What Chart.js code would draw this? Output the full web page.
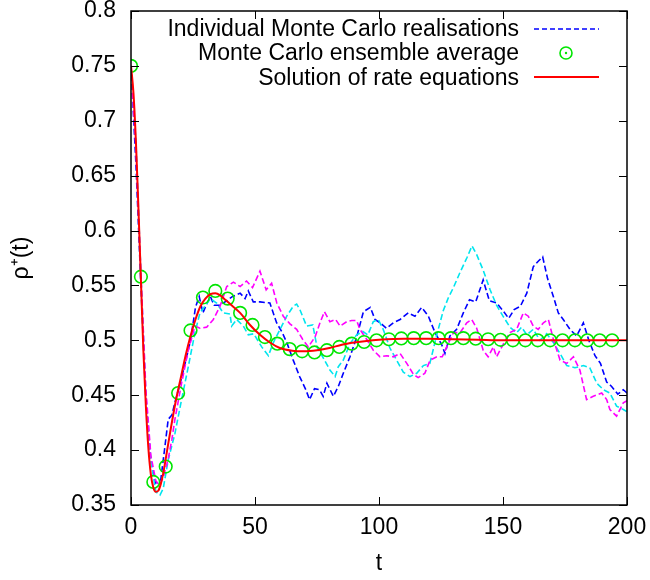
<!DOCTYPE html>
<html>
<head>
<meta charset="utf-8">
<script src="https://cdn.jsdelivr.net/npm/chart.js@4.4.0/dist/chart.umd.min.js"></script>
<style>
html,body{margin:0;padding:0;background:#fff;}
canvas{display:block;}
</style>
</head>
<body>
<canvas id="c" width="650" height="580"></canvas>
<script>
// ---- data ----
const xTicks = [0, 50, 100, 150, 200];
const yTicks = [0.35, 0.4, 0.45, 0.5, 0.55, 0.6, 0.65, 0.7, 0.75, 0.8];

const legendLabels = ["Individual Monte Carlo realisations", "Monte Carlo ensemble average", "Solution of rate equations"];

const tBlue = [0,2,4,6,8,10,12,13.5,15,16.5,18,19.5,21.5,24,26,27.5,29,30.5,32,33.5,36,38.5,41,44,46,47.3,49.3,52,56,58.7,61,63,65.4,68,70.5,72,74,76,77.5,79,81.6,83.6,85.6,88.3,91,93.7,96.5,98.4,100.4,103,105.8,108.5,111.8,114.5,117.2,119.9,122.6,125.3,126.6,128.6,131.3,134,136.5,139,142,144.5,147.4,150,152.3,154.5,157,159.6,162.2,164.2,166,168,170.3,172.3,174.3,177,179.7,182.4,184.6,187.1,189.3,191.8,193.8,196.3,198.5,200];
const vBlue = [0.75,0.66,0.55,0.445,0.39,0.37,0.373,0.40,0.428,0.432,0.446,0.458,0.476,0.500,0.530,0.540,0.525,0.533,0.540,0.532,0.532,0.536,0.540,0.543,0.538,0.545,0.535,0.535,0.534,0.516,0.507,0.497,0.482,0.467,0.455,0.446,0.456,0.455,0.449,0.461,0.449,0.458,0.470,0.485,0.503,0.526,0.530,0.519,0.516,0.511,0.516,0.519,0.525,0.522,0.530,0.522,0.507,0.496,0.488,0.504,0.510,0.525,0.537,0.535,0.555,0.536,0.534,0.527,0.520,0.528,0.531,0.543,0.567,0.572,0.576,0.556,0.540,0.525,0.519,0.510,0.504,0.516,0.500,0.486,0.479,0.462,0.458,0.451,0.455,0.452];

const tCyan = [0,2,4,6,8,10,11.7,13,15,17.7,20.4,23.1,25.8,27.8,29.8,32,34.5,37.2,39.9,40.6,42.6,45.3,47.3,49.5,52.7,55.4,57.4,60.1,62.8,65.4,66.8,68.1,70.8,73.3,75,77.5,80.2,82.3,83.6,85.6,88.3,91,93.5,95.5,97.7,99.7,101.7,104.4,107.1,109.8,112.5,115.2,117.9,120.5,123.3,125.9,128,130,132.7,135.4,137.5,139.4,142,144.8,147.4,150,152.8,155.5,157.5,159.6,162.2,164.9,167.6,170.3,173,175.7,179,182.4,185,187.8,190.5,193.1,195.8,198.5,200];
const vCyan = [0.75,0.68,0.56,0.45,0.39,0.362,0.359,0.365,0.391,0.415,0.446,0.476,0.507,0.525,0.531,0.538,0.534,0.525,0.524,0.513,0.519,0.513,0.505,0.506,0.494,0.486,0.498,0.510,0.522,0.531,0.533,0.528,0.513,0.514,0.494,0.484,0.473,0.467,0.476,0.482,0.497,0.505,0.508,0.505,0.517,0.519,0.510,0.493,0.482,0.471,0.467,0.470,0.477,0.479,0.505,0.527,0.539,0.548,0.562,0.575,0.586,0.578,0.564,0.546,0.532,0.522,0.512,0.507,0.512,0.505,0.510,0.500,0.506,0.498,0.488,0.477,0.475,0.477,0.475,0.461,0.455,0.452,0.440,0.437,0.435];

const tMagenta = [0,2,4,6,8,10,11.5,13,15,16.5,17.7,20.4,23.1,25.8,27.8,30.5,33.2,35.9,38.6,41.3,44,46.6,49,52,54.5,56.7,58.8,61.4,64.1,66.8,69.2,71.5,74.2,76.2,78,80.2,82.5,84.3,87,89,91,92.3,95,97.7,100.4,103.1,105.8,108.5,111.2,113.9,115.8,118.5,120.6,123.3,125.5,127.3,130,132.7,135.4,137.4,139.4,142,144,146.1,147.4,150,152.8,155.5,158.2,160.2,162.2,164.2,166.3,168.3,170.3,173,175.7,178.4,181,183.7,186.4,189.8,191.8,193.1,195.8,198.5,200];
const vMagenta = [0.75,0.675,0.56,0.455,0.395,0.372,0.368,0.375,0.392,0.410,0.428,0.461,0.491,0.513,0.511,0.512,0.519,0.531,0.549,0.553,0.549,0.554,0.548,0.563,0.546,0.552,0.534,0.522,0.515,0.510,0.501,0.494,0.503,0.516,0.526,0.517,0.519,0.513,0.517,0.518,0.518,0.510,0.501,0.491,0.485,0.486,0.485,0.488,0.479,0.469,0.466,0.470,0.482,0.485,0.485,0.494,0.507,0.507,0.516,0.519,0.511,0.491,0.485,0.494,0.485,0.496,0.507,0.510,0.525,0.522,0.513,0.510,0.516,0.519,0.501,0.482,0.479,0.485,0.473,0.446,0.449,0.452,0.446,0.437,0.431,0.443,0.445];

const tAvg = [0,4,9,14,19,24,29,34,39,44,49,54,59,64,69,74,79,84,89,94,99,104,109,114,119,124,129,134,139,144,149,154,159,164,169,174,179,184,189,194];
const vAvg = [0.75,0.558,0.371,0.385,0.452,0.509,0.539,0.545,0.538,0.525,0.514,0.503,0.497,0.492,0.490,0.489,0.491,0.494,0.497,0.4985,0.500,0.501,0.5017,0.502,0.502,0.502,0.502,0.502,0.5015,0.501,0.5005,0.500,0.500,0.500,0.500,0.500,0.500,0.500,0.500,0.500];

const tRate = [0,1,2,3,4,5,6,7,8,9,10,11,12,13,14,16,18,20,22,24,26,28,30,32,34,36,38,40,44,48,52,56,60,65,70,75,80,85,90,95,100,110,120,130,140,150,200];
const vRate = [0.75,0.725,0.68,0.62,0.555,0.49,0.44,0.402,0.378,0.366,0.362,0.363,0.369,0.379,0.392,0.419,0.444,0.465,0.486,0.504,0.519,0.531,0.538,0.542,0.543,0.541,0.537,0.533,0.525,0.514,0.505,0.498,0.493,0.4905,0.490,0.491,0.493,0.496,0.498,0.4995,0.5005,0.5015,0.5015,0.501,0.5005,0.500,0.500];

const pts = (ts, vs) => ts.map((t, i) => ({x: t, y: vs[i]}));

const FONT = "'Liberation Sans', Arial, Helvetica, sans-serif";
const FS = 23;
const BLUE = '#0000ff', CYAN = '#00e5ee', MAGENTA = '#ff00ff', GREEN = '#00e600', RED = '#ff0000';

const framePlugin = {
  id: 'frame',
  afterDraw(chart) {
    const ctx = chart.ctx, a = chart.chartArea;
    const xs = chart.scales.x, ys = chart.scales.y;
    ctx.save();
    ctx.strokeStyle = '#000';
    ctx.lineWidth = 1.5;
    ctx.strokeRect(a.left, a.top, a.right - a.left, a.bottom - a.top);
    ctx.lineWidth = 1;
    const L = 8;
    ctx.beginPath();
    xTicks.forEach(v => {
      const px = Math.round(xs.getPixelForValue(v)) + 0.5;
      ctx.moveTo(px, a.bottom); ctx.lineTo(px, a.bottom - L);
      ctx.moveTo(px, a.top); ctx.lineTo(px, a.top + L);
    });
    yTicks.forEach(v => {
      const py = Math.round(ys.getPixelForValue(v)) + 0.5;
      ctx.moveTo(a.left, py); ctx.lineTo(a.left + L, py);
      ctx.moveTo(a.right, py); ctx.lineTo(a.right - L, py);
    });
    ctx.stroke();

    // key (legend)
    ctx.font = FS + 'px ' + FONT;
    ctx.fillStyle = '#000';
    ctx.textAlign = 'right';
    ctx.textBaseline = 'alphabetic';
    const base = [36, 60, 85];
    const mid = [29, 53, 77];
    const tx = 519, s0 = 534, s1 = 599;
    legendLabels.forEach((lab, i) => ctx.fillText(lab, tx, base[i]));
    ctx.lineWidth = 1.5;
    ctx.strokeStyle = BLUE;
    ctx.setLineDash([5, 3]);
    ctx.beginPath(); ctx.moveTo(s0, mid[0]); ctx.lineTo(s1, mid[0]); ctx.stroke();
    ctx.setLineDash([]);
    ctx.strokeStyle = GREEN;
    ctx.lineWidth = 1.6;
    ctx.beginPath(); ctx.arc(566, mid[1], 6, 0, Math.PI * 2); ctx.stroke();
    ctx.fillStyle = GREEN;
    ctx.beginPath(); ctx.arc(566, mid[1], 1.2, 0, Math.PI * 2); ctx.fill();
    ctx.strokeStyle = RED;
    ctx.lineWidth = 2;
    ctx.beginPath(); ctx.moveTo(s0, mid[2]); ctx.lineTo(s1, mid[2]); ctx.stroke();
    ctx.restore();
  }
};

new Chart(document.getElementById('c'), {
  type: 'line',
  data: {
    datasets: [
      {label: 'rate', data: pts(tRate, vRate), borderColor: RED, borderWidth: 2, pointRadius: 0, fill: false, cubicInterpolationMode: 'monotone', order: 0},
      {label: 'avg', data: pts(tAvg, vAvg), showLine: false, borderColor: GREEN, backgroundColor: 'rgba(0,0,0,0)', pointRadius: 6.3, pointBorderWidth: 1.6, pointStyle: 'circle', order: 1},
      {label: 'mc3', data: pts(tMagenta, vMagenta), borderColor: MAGENTA, borderWidth: 1.6, borderDash: [6, 3], pointRadius: 0, tension: 0, fill: false, order: 2},
      {label: 'mc2', data: pts(tCyan, vCyan), borderColor: CYAN, borderWidth: 1.6, borderDash: [6, 3], pointRadius: 0, tension: 0, fill: false, order: 3},
      {label: 'mc1', data: pts(tBlue, vBlue), borderColor: BLUE, borderWidth: 1.6, borderDash: [6, 3], pointRadius: 0, tension: 0, fill: false, order: 4}
    ]
  },
  options: {
    responsive: false,
    animation: false,
    layout: {padding: {top: 11, right: 23, left: 0, bottom: 0}},
    plugins: {legend: {display: false}, tooltip: {enabled: false}},
    scales: {
      x: {
        type: 'linear', min: 0, max: 200,
        afterBuildTicks: s => { s.ticks = xTicks.map(v => ({value: v})); },
        afterFit: s => { s.height = 75; s.paddingLeft = 0; s.paddingRight = 0; },
        grid: {drawOnChartArea: false, drawTicks: false},
        border: {display: false},
        ticks: {color: '#000', font: {family: FONT, size: FS}, padding: 9, maxRotation: 0},
        title: {display: true, text: 't', color: '#000', font: {family: FONT, size: FS}, padding: {top: 4, bottom: 3}}
      },
      y: {
        type: 'linear', min: 0.35, max: 0.8,
        afterBuildTicks: s => { s.ticks = yTicks.map(v => ({value: v})); },
        afterFit: s => { s.width = 131; s.paddingTop = 0; s.paddingBottom = 0; },
        grid: {drawOnChartArea: false, drawTicks: false},
        border: {display: false},
        ticks: {color: '#000', font: {family: FONT, size: FS}, padding: 15,
          callback: v => String(Number(v.toFixed(2)))},
        title: {display: true, text: 'ρ⁺(t)', color: '#000', font: {family: FONT, size: FS}, padding: {top: 8, bottom: 4}}
      }
    }
  },
  plugins: [framePlugin]
});
</script>
</body>
</html>
